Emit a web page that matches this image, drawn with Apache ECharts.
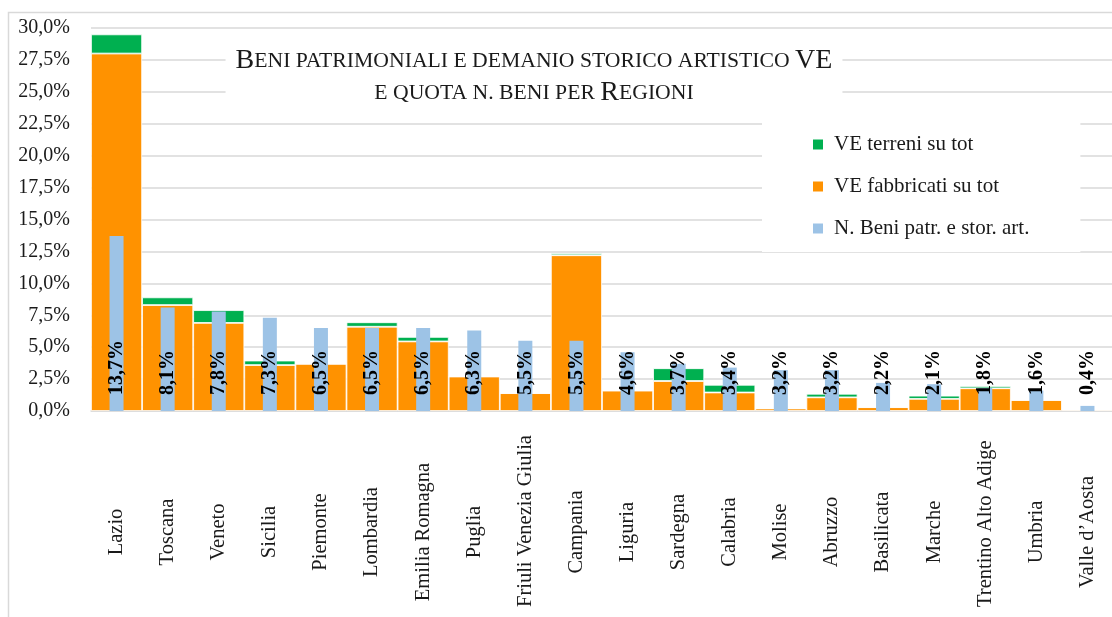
<!DOCTYPE html>
<html>
<head>
<meta charset="utf-8">
<script src="https://cdn.jsdelivr.net/npm/echarts@6/dist/echarts.min.js"></script>
<style>
  html, body { margin: 0; padding: 0; background: #fff; }
  #chart { width: 1112px; height: 617px; }
</style>
</head>
<body>
<div id="chart"></div>
<script>
// regioni in ordine di quota beni
const regions = ['Lazio', 'Toscana', 'Veneto', 'Sicilia', 'Piemonte', 'Lombardia', 'Emilia Romagna',
  'Puglia', 'Friuli Venezia Giulia', 'Campania', 'Liguria', 'Sardegna', 'Calabria', 'Molise',
  'Abruzzo', 'Basilicata', 'Marche', 'Trentino Alto Adige', 'Umbria', 'Valle d’Aosta']

const fabbricati = [28.0, 8.3, 6.9, 3.6, 3.7, 6.6, 5.45, 2.7, 1.4, 12.2, 1.6, 2.35, 1.45, 0.2, 1.07, 0.3, 0.95, 1.78, 0.86, 0.1]
const terreni = [1.5, 0.6, 1.0, 0.35, 0, 0.35, 0.35, 0, 0, 0.15, 0, 1.0, 0.6, 0, 0.28, 0, 0.25, 0.18, 0, 0]
const beni = [13.7, 8.1, 7.8, 7.3, 6.5, 6.5, 6.5, 6.3, 5.5, 5.5, 4.6, 3.7, 3.4, 3.2, 3.2, 2.2, 2.1, 1.8, 1.6, 0.4]

const serif = 'Liberation Serif'
const pct = v => v.toFixed(1).replace('.', ',') + '%'

// etichette asse x centrate, ma quelle lunghe non scendono oltre il bordo
const xFont = 20.5
const ctx = document.createElement('canvas').getContext('2d')
ctx.font = xFont + 'px "Liberation Serif"'
const labelRich = {}
regions.forEach((r, i) => {
  const w = ctx.measureText(r).width
  const shift = Math.max(0, w / 2 - 75)
  labelRich['r' + i] = { fontFamily: serif, fontSize: xFont, color: '#1a1a1a', padding: [0, 0, 0, shift * 2] }
})

const chart = echarts.init(document.getElementById('chart'))

chart.setOption({
  animation: false,
  textStyle: { fontFamily: serif },
  graphic: [{
    type: 'rect',
    z: -10,
    shape: { x: 8.5, y: 12.5, width: 1200, height: 700 },
    style: { fill: 'none', stroke: '#d9d9d9', lineWidth: 1.5 }
  }],
  title: {
    text: '{b|B}{s|ENI PATRIMONIALI E DEMANIO STORICO ARTISTICO }{b|VE}\n{s|E QUOTA N. BENI PER }{b|R}{s|EGIONI}',
    left: 524,
    top: 41,
    textAlign: 'center',
    backgroundColor: '#fff',
    padding: [4, 10, 6, 10],
    textStyle: {
      fontFamily: serif,
      fontWeight: 'normal',
      color: '#1a1a1a',
      rich: {
        b: { fontFamily: serif, fontSize: 28, lineHeight: 32, color: '#1a1a1a' },
        s: { fontFamily: serif, fontSize: 21.7, lineHeight: 32, color: '#1a1a1a' }
      }
    }
  },
  legend: {
    data: ['VE terreni su tot', 'VE fabbricati su tot', 'N. Beni patr. e stor. art.'],
    orient: 'vertical',
    left: 762,
    top: 123,
    backgroundColor: '#fff',
    padding: [11, 51, 13, 51],
    itemWidth: 10,
    itemHeight: 10,
    itemGap: 21,
    icon: 'rect',
    itemStyle: { borderWidth: 0 },
    textStyle: { fontFamily: serif, fontSize: 21, color: '#1a1a1a', padding: [0, 0, 0, 6] }
  },
  grid: {
    left: 91,
    right: -1,
    top: 28,
    bottom: 206,
    outerBoundsMode: 'none'
  },
  xAxis: [{
    type: 'category',
    data: regions,
    axisTick: { show: false },
    axisLine: { lineStyle: { color: '#d9d9d9', width: 1.5 } },
    axisLabel: {
      interval: 0,
      rotate: 90,
      align: 'center',
      margin: 121,
      formatter: (v, i) => '{r' + i + '|' + v + '}',
      rich: labelRich,
      fontFamily: serif,
      fontSize: xFont,
      color: '#1a1a1a'
    }
  }, {
    type: 'category',
    data: regions,
    show: false
  }],
  yAxis: {
    type: 'value',
    min: 0,
    max: 30,
    interval: 2.5,
    axisLine: { show: false },
    axisTick: { show: false },
    axisLabel: {
      formatter: pct,
      margin: 21,
      fontFamily: serif,
      fontSize: 20,
      color: '#1a1a1a'
    },
    splitLine: { lineStyle: { color: '#d9d9d9', width: 1.5 } }
  },
  series: [
    {
      name: 'VE fabbricati su tot',
      type: 'bar',
      stack: 've',
      barCategoryGap: '0%',
      data: fabbricati,
      itemStyle: { color: '#ff9200', borderColor: '#fff', borderWidth: 0.8 }
    },
    {
      name: 'VE terreni su tot',
      type: 'bar',
      stack: 've',
      barCategoryGap: '0%',
      data: terreni,
      itemStyle: { color: '#00b050', borderColor: '#fff', borderWidth: 0.8 }
    },
    {
      name: 'N. Beni patr. e stor. art.',
      type: 'bar',
      xAxisIndex: 1,
      barWidth: 14,
      z: 5,
      data: beni,
      itemStyle: { color: '#9dc3e6' },
      label: {
        show: true,
        position: 'insideBottom',
        distance: 16,
        rotate: 90,
        align: 'left',
        verticalAlign: 'middle',
        formatter: p => pct(p.value),
        fontFamily: serif,
        fontSize: 20,
        fontWeight: 'bold',
        color: '#000'
      }
    }
  ]
})
</script>
</body>
</html>
